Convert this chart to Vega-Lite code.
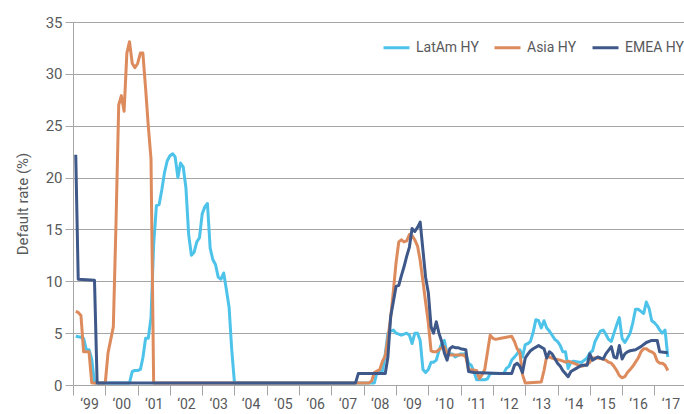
{
  "$schema": "https://vega.github.io/schema/vega-lite/v6.json",
  "width": 611,
  "height": 363,
  "autosize": {"type": "none"},
  "padding": {"left": 73, "top": 22, "right": 0, "bottom": 29},
  "background": "white",
  "config": {
    "view": {"stroke": null},
    "font": "Roboto, sans-serif"
  },
  "data": {"values": [
    {"series":"LatAm HY","date":"1999-02","rate":4.7},{"series":"LatAm HY","date":"1999-04","rate":4.6},{"series":"LatAm HY","date":"1999-05","rate":4.5},{"series":"LatAm HY","date":"1999-06","rate":3.4},{"series":"LatAm HY","date":"1999-07","rate":3.4},{"series":"LatAm HY","date":"1999-08","rate":2.5},{"series":"LatAm HY","date":"1999-09","rate":0.2},
    {"series":"LatAm HY","date":"2000-10","rate":0.2},{"series":"LatAm HY","date":"2000-11","rate":1.3},{"series":"LatAm HY","date":"2000-12","rate":1.4},{"series":"LatAm HY","date":"2001-01","rate":1.4},{"series":"LatAm HY","date":"2001-02","rate":1.5},{"series":"LatAm HY","date":"2001-03","rate":2.6},{"series":"LatAm HY","date":"2001-04","rate":4.5},{"series":"LatAm HY","date":"2001-05","rate":4.5},{"series":"LatAm HY","date":"2001-06","rate":6.5},{"series":"LatAm HY","date":"2001-07","rate":13.5},{"series":"LatAm HY","date":"2001-08","rate":17.3},{"series":"LatAm HY","date":"2001-09","rate":17.4},{"series":"LatAm HY","date":"2001-10","rate":18.8},{"series":"LatAm HY","date":"2001-11","rate":20.5},{"series":"LatAm HY","date":"2001-12","rate":21.6},
    {"series":"LatAm HY","date":"2002-01","rate":22.1},{"series":"LatAm HY","date":"2002-02","rate":22.3},{"series":"LatAm HY","date":"2002-03","rate":22.0},{"series":"LatAm HY","date":"2002-04","rate":20.0},{"series":"LatAm HY","date":"2002-05","rate":21.4},{"series":"LatAm HY","date":"2002-06","rate":21.0},{"series":"LatAm HY","date":"2002-07","rate":19.0},{"series":"LatAm HY","date":"2002-08","rate":14.5},{"series":"LatAm HY","date":"2002-09","rate":12.5},{"series":"LatAm HY","date":"2002-10","rate":12.8},{"series":"LatAm HY","date":"2002-11","rate":13.8},{"series":"LatAm HY","date":"2002-12","rate":14.2},
    {"series":"LatAm HY","date":"2003-01","rate":16.5},{"series":"LatAm HY","date":"2003-02","rate":17.2},{"series":"LatAm HY","date":"2003-03","rate":17.5},{"series":"LatAm HY","date":"2003-04","rate":13.2},{"series":"LatAm HY","date":"2003-05","rate":12.1},{"series":"LatAm HY","date":"2003-06","rate":11.6},{"series":"LatAm HY","date":"2003-07","rate":10.4},{"series":"LatAm HY","date":"2003-08","rate":10.2},{"series":"LatAm HY","date":"2003-09","rate":10.8},{"series":"LatAm HY","date":"2003-10","rate":9.2},{"series":"LatAm HY","date":"2003-11","rate":7.5},{"series":"LatAm HY","date":"2003-12","rate":3.4},{"series":"LatAm HY","date":"2004-01","rate":0.2},
    {"series":"LatAm HY","date":"2008-05","rate":0.2},{"series":"LatAm HY","date":"2008-06","rate":1.3},{"series":"LatAm HY","date":"2008-07","rate":1.3},{"series":"LatAm HY","date":"2008-08","rate":1.4},{"series":"LatAm HY","date":"2008-09","rate":3.0},{"series":"LatAm HY","date":"2008-10","rate":5.0},{"series":"LatAm HY","date":"2008-11","rate":5.2},{"series":"LatAm HY","date":"2008-12","rate":5.3},
    {"series":"LatAm HY","date":"2009-01","rate":5.0},{"series":"LatAm HY","date":"2009-02","rate":4.9},{"series":"LatAm HY","date":"2009-03","rate":4.8},{"series":"LatAm HY","date":"2009-04","rate":4.9},{"series":"LatAm HY","date":"2009-05","rate":5.0},{"series":"LatAm HY","date":"2009-06","rate":4.8},{"series":"LatAm HY","date":"2009-07","rate":4.0},{"series":"LatAm HY","date":"2009-08","rate":5.0},{"series":"LatAm HY","date":"2009-09","rate":5.0},{"series":"LatAm HY","date":"2009-10","rate":4.3},{"series":"LatAm HY","date":"2009-11","rate":1.5},{"series":"LatAm HY","date":"2009-12","rate":1.2},
    {"series":"LatAm HY","date":"2010-01","rate":1.5},{"series":"LatAm HY","date":"2010-02","rate":2.2},{"series":"LatAm HY","date":"2010-03","rate":2.2},{"series":"LatAm HY","date":"2010-04","rate":2.4},{"series":"LatAm HY","date":"2010-05","rate":3.3},{"series":"LatAm HY","date":"2010-06","rate":4.0},{"series":"LatAm HY","date":"2010-07","rate":4.3},{"series":"LatAm HY","date":"2010-08","rate":3.0},{"series":"LatAm HY","date":"2010-10","rate":3.0},{"series":"LatAm HY","date":"2010-11","rate":2.7},
    {"series":"LatAm HY","date":"2011-01","rate":3.0},{"series":"LatAm HY","date":"2011-03","rate":3.0},{"series":"LatAm HY","date":"2011-04","rate":2.1},{"series":"LatAm HY","date":"2011-05","rate":1.9},{"series":"LatAm HY","date":"2011-06","rate":1.3},{"series":"LatAm HY","date":"2011-07","rate":0.5},{"series":"LatAm HY","date":"2011-10","rate":0.5},{"series":"LatAm HY","date":"2011-11","rate":0.6},{"series":"LatAm HY","date":"2011-12","rate":1.1},
    {"series":"LatAm HY","date":"2012-05","rate":1.1},{"series":"LatAm HY","date":"2012-06","rate":1.6},{"series":"LatAm HY","date":"2012-07","rate":1.8},{"series":"LatAm HY","date":"2012-08","rate":2.4},{"series":"LatAm HY","date":"2012-09","rate":2.7},{"series":"LatAm HY","date":"2012-10","rate":3.0},{"series":"LatAm HY","date":"2012-11","rate":3.4},{"series":"LatAm HY","date":"2012-12","rate":2.7},
    {"series":"LatAm HY","date":"2013-01","rate":3.9},{"series":"LatAm HY","date":"2013-02","rate":4.0},{"series":"LatAm HY","date":"2013-03","rate":4.2},{"series":"LatAm HY","date":"2013-04","rate":5.1},{"series":"LatAm HY","date":"2013-05","rate":6.3},{"series":"LatAm HY","date":"2013-06","rate":6.2},{"series":"LatAm HY","date":"2013-07","rate":5.5},{"series":"LatAm HY","date":"2013-08","rate":6.2},{"series":"LatAm HY","date":"2013-09","rate":5.5},{"series":"LatAm HY","date":"2013-10","rate":5.2},{"series":"LatAm HY","date":"2013-11","rate":4.8},{"series":"LatAm HY","date":"2013-12","rate":4.4},
    {"series":"LatAm HY","date":"2014-01","rate":4.2},{"series":"LatAm HY","date":"2014-02","rate":3.8},{"series":"LatAm HY","date":"2014-03","rate":3.2},{"series":"LatAm HY","date":"2014-04","rate":3.2},{"series":"LatAm HY","date":"2014-05","rate":1.6},{"series":"LatAm HY","date":"2014-06","rate":2.2},{"series":"LatAm HY","date":"2014-07","rate":2.3},{"series":"LatAm HY","date":"2014-09","rate":2.2},{"series":"LatAm HY","date":"2014-10","rate":2.2},{"series":"LatAm HY","date":"2014-11","rate":2.4},{"series":"LatAm HY","date":"2014-12","rate":2.6},
    {"series":"LatAm HY","date":"2015-01","rate":3.1},{"series":"LatAm HY","date":"2015-02","rate":3.3},{"series":"LatAm HY","date":"2015-03","rate":4.2},{"series":"LatAm HY","date":"2015-04","rate":4.7},{"series":"LatAm HY","date":"2015-05","rate":5.2},{"series":"LatAm HY","date":"2015-06","rate":5.3},{"series":"LatAm HY","date":"2015-07","rate":4.9},{"series":"LatAm HY","date":"2015-08","rate":4.4},{"series":"LatAm HY","date":"2015-09","rate":4.2},{"series":"LatAm HY","date":"2015-10","rate":5.0},{"series":"LatAm HY","date":"2015-11","rate":5.8},{"series":"LatAm HY","date":"2015-12","rate":6.5},
    {"series":"LatAm HY","date":"2016-01","rate":4.5},{"series":"LatAm HY","date":"2016-02","rate":4.1},{"series":"LatAm HY","date":"2016-03","rate":4.5},{"series":"LatAm HY","date":"2016-04","rate":5.0},{"series":"LatAm HY","date":"2016-05","rate":6.0},{"series":"LatAm HY","date":"2016-06","rate":7.3},{"series":"LatAm HY","date":"2016-07","rate":7.3},{"series":"LatAm HY","date":"2016-08","rate":7.1},{"series":"LatAm HY","date":"2016-09","rate":6.9},{"series":"LatAm HY","date":"2016-10","rate":8.0},{"series":"LatAm HY","date":"2016-11","rate":7.4},{"series":"LatAm HY","date":"2016-12","rate":6.2},
    {"series":"LatAm HY","date":"2017-01","rate":6.0},{"series":"LatAm HY","date":"2017-02","rate":5.7},{"series":"LatAm HY","date":"2017-03","rate":5.3},{"series":"LatAm HY","date":"2017-04","rate":5.0},{"series":"LatAm HY","date":"2017-05","rate":5.3},{"series":"LatAm HY","date":"2017-06","rate":2.7},

    {"series":"Asia HY","date":"1999-02","rate":7.1},{"series":"Asia HY","date":"1999-03","rate":7.0},{"series":"Asia HY","date":"1999-04","rate":6.7},{"series":"Asia HY","date":"1999-05","rate":3.2},{"series":"Asia HY","date":"1999-07","rate":3.2},{"series":"Asia HY","date":"1999-08","rate":0.2},
    {"series":"Asia HY","date":"2000-01","rate":0.2},{"series":"Asia HY","date":"2000-02","rate":3.1},{"series":"Asia HY","date":"2000-04","rate":5.6},{"series":"Asia HY","date":"2000-05","rate":15.5},{"series":"Asia HY","date":"2000-06","rate":27.0},{"series":"Asia HY","date":"2000-07","rate":27.9},{"series":"Asia HY","date":"2000-08","rate":26.4},{"series":"Asia HY","date":"2000-09","rate":32.0},{"series":"Asia HY","date":"2000-10","rate":33.1},{"series":"Asia HY","date":"2000-11","rate":31.0},{"series":"Asia HY","date":"2000-12","rate":30.6},
    {"series":"Asia HY","date":"2001-01","rate":31.0},{"series":"Asia HY","date":"2001-02","rate":32.0},{"series":"Asia HY","date":"2001-03","rate":32.0},{"series":"Asia HY","date":"2001-04","rate":28.6},{"series":"Asia HY","date":"2001-05","rate":25.0},{"series":"Asia HY","date":"2001-06","rate":21.8},{"series":"Asia HY","date":"2001-07","rate":0.2},
    {"series":"Asia HY","date":"2008-03","rate":0.2},{"series":"Asia HY","date":"2008-04","rate":0.4},{"series":"Asia HY","date":"2008-05","rate":1.2},{"series":"Asia HY","date":"2008-07","rate":1.5},{"series":"Asia HY","date":"2008-08","rate":2.3},{"series":"Asia HY","date":"2008-09","rate":2.8},{"series":"Asia HY","date":"2008-10","rate":4.5},{"series":"Asia HY","date":"2008-11","rate":6.5},{"series":"Asia HY","date":"2008-12","rate":9.0},
    {"series":"Asia HY","date":"2009-01","rate":11.8},{"series":"Asia HY","date":"2009-02","rate":13.8},{"series":"Asia HY","date":"2009-03","rate":14.0},{"series":"Asia HY","date":"2009-04","rate":13.8},{"series":"Asia HY","date":"2009-05","rate":13.9},{"series":"Asia HY","date":"2009-06","rate":14.5},{"series":"Asia HY","date":"2009-07","rate":14.4},{"series":"Asia HY","date":"2009-08","rate":14.0},{"series":"Asia HY","date":"2009-09","rate":13.4},{"series":"Asia HY","date":"2009-10","rate":12.0},{"series":"Asia HY","date":"2009-11","rate":10.0},{"series":"Asia HY","date":"2009-12","rate":8.0},
    {"series":"Asia HY","date":"2010-01","rate":6.0},{"series":"Asia HY","date":"2010-02","rate":3.3},{"series":"Asia HY","date":"2010-03","rate":3.2},{"series":"Asia HY","date":"2010-04","rate":3.2},{"series":"Asia HY","date":"2010-06","rate":3.6},{"series":"Asia HY","date":"2010-07","rate":3.7},{"series":"Asia HY","date":"2010-08","rate":3.1},{"series":"Asia HY","date":"2010-09","rate":2.9},{"series":"Asia HY","date":"2010-12","rate":2.9},
    {"series":"Asia HY","date":"2011-02","rate":2.9},{"series":"Asia HY","date":"2011-03","rate":2.7},{"series":"Asia HY","date":"2011-04","rate":1.5},{"series":"Asia HY","date":"2011-07","rate":1.4},{"series":"Asia HY","date":"2011-08","rate":0.6},{"series":"Asia HY","date":"2011-09","rate":1.0},{"series":"Asia HY","date":"2011-10","rate":1.5},{"series":"Asia HY","date":"2011-12","rate":4.8},
    {"series":"Asia HY","date":"2012-01","rate":4.5},{"series":"Asia HY","date":"2012-02","rate":4.4},{"series":"Asia HY","date":"2012-04","rate":4.5},{"series":"Asia HY","date":"2012-06","rate":4.6},{"series":"Asia HY","date":"2012-08","rate":4.7},{"series":"Asia HY","date":"2012-09","rate":4.2},{"series":"Asia HY","date":"2012-10","rate":3.5},{"series":"Asia HY","date":"2012-11","rate":3.1},{"series":"Asia HY","date":"2012-12","rate":1.0},
    {"series":"Asia HY","date":"2013-01","rate":0.2},{"series":"Asia HY","date":"2013-07","rate":0.3},{"series":"Asia HY","date":"2013-08","rate":1.4},{"series":"Asia HY","date":"2013-09","rate":2.8},{"series":"Asia HY","date":"2013-10","rate":2.7},{"series":"Asia HY","date":"2013-12","rate":2.5},
    {"series":"Asia HY","date":"2014-02","rate":2.4},{"series":"Asia HY","date":"2014-04","rate":2.2},{"series":"Asia HY","date":"2014-05","rate":2.3},{"series":"Asia HY","date":"2014-07","rate":2.1},{"series":"Asia HY","date":"2014-09","rate":1.9},{"series":"Asia HY","date":"2014-10","rate":1.8},{"series":"Asia HY","date":"2014-12","rate":2.0},
    {"series":"Asia HY","date":"2015-01","rate":2.2},{"series":"Asia HY","date":"2015-02","rate":2.6},{"series":"Asia HY","date":"2015-04","rate":2.6},{"series":"Asia HY","date":"2015-06","rate":2.5},{"series":"Asia HY","date":"2015-07","rate":2.4},{"series":"Asia HY","date":"2015-08","rate":2.2},{"series":"Asia HY","date":"2015-09","rate":2.1},{"series":"Asia HY","date":"2015-10","rate":1.8},{"series":"Asia HY","date":"2015-11","rate":1.4},{"series":"Asia HY","date":"2015-12","rate":0.9},
    {"series":"Asia HY","date":"2016-01","rate":0.7},{"series":"Asia HY","date":"2016-02","rate":0.8},{"series":"Asia HY","date":"2016-03","rate":1.2},{"series":"Asia HY","date":"2016-04","rate":1.5},{"series":"Asia HY","date":"2016-05","rate":1.8},{"series":"Asia HY","date":"2016-06","rate":2.2},{"series":"Asia HY","date":"2016-07","rate":2.6},{"series":"Asia HY","date":"2016-08","rate":3.2},{"series":"Asia HY","date":"2016-09","rate":3.5},{"series":"Asia HY","date":"2016-10","rate":3.5},{"series":"Asia HY","date":"2016-11","rate":3.3},{"series":"Asia HY","date":"2016-12","rate":3.2},
    {"series":"Asia HY","date":"2017-01","rate":3.0},{"series":"Asia HY","date":"2017-02","rate":2.3},{"series":"Asia HY","date":"2017-03","rate":2.1},{"series":"Asia HY","date":"2017-04","rate":2.1},{"series":"Asia HY","date":"2017-05","rate":1.9},{"series":"Asia HY","date":"2017-06","rate":1.4},

    {"series":"EMEA HY","date":"1999-02","rate":22.2},{"series":"EMEA HY","date":"1999-03","rate":10.2},{"series":"EMEA HY","date":"1999-09","rate":10.1},{"series":"EMEA HY","date":"1999-10","rate":0.2},
    {"series":"EMEA HY","date":"2007-10","rate":0.2},{"series":"EMEA HY","date":"2007-11","rate":1.1},{"series":"EMEA HY","date":"2008-09","rate":1.1},{"series":"EMEA HY","date":"2008-10","rate":2.7},{"series":"EMEA HY","date":"2008-11","rate":6.6},{"series":"EMEA HY","date":"2008-12","rate":8.0},
    {"series":"EMEA HY","date":"2009-01","rate":9.5},{"series":"EMEA HY","date":"2009-02","rate":9.6},{"series":"EMEA HY","date":"2009-03","rate":10.5},{"series":"EMEA HY","date":"2009-04","rate":11.4},{"series":"EMEA HY","date":"2009-05","rate":12.4},{"series":"EMEA HY","date":"2009-06","rate":13.3},{"series":"EMEA HY","date":"2009-07","rate":15.1},{"series":"EMEA HY","date":"2009-08","rate":14.8},{"series":"EMEA HY","date":"2009-09","rate":15.2},{"series":"EMEA HY","date":"2009-10","rate":15.7},{"series":"EMEA HY","date":"2009-11","rate":13.0},{"series":"EMEA HY","date":"2009-12","rate":10.4},
    {"series":"EMEA HY","date":"2010-01","rate":8.9},{"series":"EMEA HY","date":"2010-02","rate":5.6},{"series":"EMEA HY","date":"2010-03","rate":5.0},{"series":"EMEA HY","date":"2010-04","rate":6.1},{"series":"EMEA HY","date":"2010-05","rate":5.0},{"series":"EMEA HY","date":"2010-06","rate":4.2},{"series":"EMEA HY","date":"2010-07","rate":3.1},{"series":"EMEA HY","date":"2010-08","rate":2.4},{"series":"EMEA HY","date":"2010-09","rate":3.5},{"series":"EMEA HY","date":"2010-10","rate":3.7},{"series":"EMEA HY","date":"2010-11","rate":3.6},{"series":"EMEA HY","date":"2010-12","rate":3.6},
    {"series":"EMEA HY","date":"2011-01","rate":3.5},{"series":"EMEA HY","date":"2011-03","rate":3.4},{"series":"EMEA HY","date":"2011-04","rate":1.3},{"series":"EMEA HY","date":"2011-06","rate":1.2},
    {"series":"EMEA HY","date":"2012-04","rate":1.1},{"series":"EMEA HY","date":"2012-08","rate":1.1},{"series":"EMEA HY","date":"2012-09","rate":1.9},{"series":"EMEA HY","date":"2012-10","rate":2.1},{"series":"EMEA HY","date":"2012-11","rate":1.8},{"series":"EMEA HY","date":"2012-12","rate":1.2},
    {"series":"EMEA HY","date":"2013-01","rate":2.6},{"series":"EMEA HY","date":"2013-02","rate":3.0},{"series":"EMEA HY","date":"2013-03","rate":3.3},{"series":"EMEA HY","date":"2013-04","rate":3.5},{"series":"EMEA HY","date":"2013-06","rate":3.8},{"series":"EMEA HY","date":"2013-08","rate":3.5},{"series":"EMEA HY","date":"2013-09","rate":2.6},{"series":"EMEA HY","date":"2013-10","rate":3.2},{"series":"EMEA HY","date":"2013-11","rate":3.0},
    {"series":"EMEA HY","date":"2014-01","rate":2.1},{"series":"EMEA HY","date":"2014-02","rate":1.8},{"series":"EMEA HY","date":"2014-03","rate":1.4},{"series":"EMEA HY","date":"2014-05","rate":0.8},{"series":"EMEA HY","date":"2014-06","rate":1.3},{"series":"EMEA HY","date":"2014-08","rate":1.6},{"series":"EMEA HY","date":"2014-10","rate":1.9},{"series":"EMEA HY","date":"2014-12","rate":1.9},
    {"series":"EMEA HY","date":"2015-01","rate":3.0},{"series":"EMEA HY","date":"2015-02","rate":2.4},{"series":"EMEA HY","date":"2015-04","rate":2.7},{"series":"EMEA HY","date":"2015-06","rate":2.5},{"series":"EMEA HY","date":"2015-07","rate":3.0},{"series":"EMEA HY","date":"2015-09","rate":3.7},{"series":"EMEA HY","date":"2015-10","rate":2.7},{"series":"EMEA HY","date":"2015-11","rate":2.6},{"series":"EMEA HY","date":"2015-12","rate":3.8},
    {"series":"EMEA HY","date":"2016-01","rate":2.5},{"series":"EMEA HY","date":"2016-02","rate":3.0},{"series":"EMEA HY","date":"2016-03","rate":3.2},{"series":"EMEA HY","date":"2016-04","rate":3.3},{"series":"EMEA HY","date":"2016-06","rate":3.4},{"series":"EMEA HY","date":"2016-08","rate":3.7},{"series":"EMEA HY","date":"2016-10","rate":4.1},{"series":"EMEA HY","date":"2016-12","rate":4.3},
    {"series":"EMEA HY","date":"2017-02","rate":4.3},{"series":"EMEA HY","date":"2017-03","rate":3.2},{"series":"EMEA HY","date":"2017-06","rate":3.1}
  ]},
  "mark": {"type": "line", "strokeWidth": 3, "strokeJoin": "round"},
  "encoding": {
    "x": {
      "field": "date",
      "type": "temporal",
      "scale": {
        "type": "utc",
        "domain": [
          {"year": 1999, "month": 1, "date": 1, "utc": true},
          {"year": 2017, "month": 12, "date": 1, "utc": true}
        ]
      },
      "axis": {
        "title": null,
        "domain": false,
        "grid": false,
        "tickCount": {"interval": "year", "step": 1},
        "tickSize": 10,
        "tickColor": "#a6a6a6",
        "labelExpr": "'‘' + utcFormat(datum.value, '%y')",
        "labelOffset": 16,
        "labelPadding": 2,
        "labelFontSize": 14,
        "labelColor": "#58595b",
        "labelOverlap": false,
        "labelFlush": false,
        "labelBound": false
      }
    },
    "y": {
      "field": "rate",
      "type": "quantitative",
      "scale": {"domain": [0, 35]},
      "axis": {
        "title": "Default rate (%)",
        "values": [0, 5, 10, 15, 20, 25, 30, 35],
        "grid": true,
        "gridColor": "#a6a6a6",
        "domainColor": "#a6a6a6",
        "tickColor": "#a6a6a6",
        "tickSize": 8,
        "labelPadding": 3,
        "labelFontSize": 15,
        "labelColor": "#58595b",
        "titleFontSize": 15,
        "titleFontWeight": "normal",
        "titleColor": "#58595b",
        "titleX": -51,
        "titleY": 181.5,
        "titleBaseline": "middle"
      }
    },
    "color": {
      "field": "series",
      "type": "nominal",
      "scale": {
        "domain": ["LatAm HY", "Asia HY", "EMEA HY"],
        "range": ["#4dc3ea", "#dd8b5c", "#3e5889"]
      },
      "legend": {
        "orient": "none",
        "legendX": 309,
        "legendY": 11,
        "direction": "horizontal",
        "title": null,
        "symbolType": "stroke",
        "symbolSize": 676,
        "symbolStrokeWidth": 3,
        "labelFontSize": 14,
        "labelColor": "#58595b",
        "labelOffset": 5,
        "columnPadding": 9,
        "padding": 0
      }
    }
  }
}
